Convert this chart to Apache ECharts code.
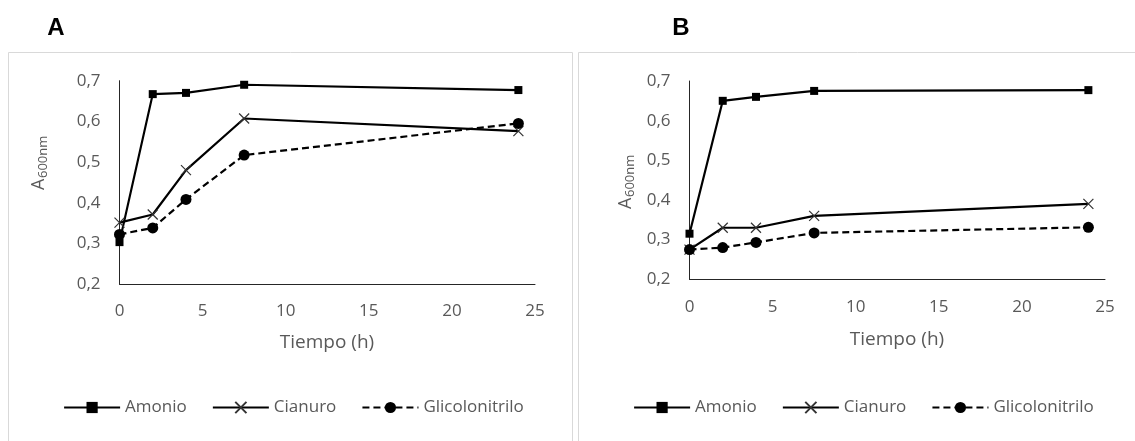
<!DOCTYPE html>
<html>
<head>
<meta charset="utf-8">
<script src="https://cdn.jsdelivr.net/npm/echarts@6/dist/echarts.min.js"></script>
<style>
html,body{margin:0;padding:0;background:#fff;}
#c{width:1135px;height:441px;}
</style>
</head>
<body>
<div id="c"></div>
<script>
const xHours = [0, 2, 4, 7.5, 24];
const amonioA = [0.303, 0.667, 0.670, 0.690, 0.677];
const cianuroA = [0.351, 0.371, 0.480, 0.607, 0.576];
const glicoA = [0.322, 0.338, 0.408, 0.517, 0.595];
const amonioB = [0.315, 0.650, 0.660, 0.675, 0.677];
const cianuroB = [0.275, 0.330, 0.330, 0.360, 0.390];
const glicoB = [0.275, 0.280, 0.293, 0.317, 0.331];
const seriesNames = ['Amonio', 'Cianuro', 'Glicolonitrilo'];
const yTickLabels = ['0,2', '0,3', '0,4', '0,5', '0,6', '0,7'];
const xTickLabels = ['0', '5', '10', '15', '20', '25'];
const panelLabels = ['A', 'B'];
const xTitle = 'Tiempo (h)';

const TXT = '#595959';
const FONT = 'Open Sans';

function pairs(ys) { return xHours.map((x, i) => [x, ys[i]]); }

const xMark = 'path://M0,0L10,10M10,0L0,10';

function makeSeries(gi, a, c, g) {
  return [
    { name: seriesNames[0], type: 'line', xAxisIndex: gi, yAxisIndex: gi, data: pairs(a),
      symbol: 'rect', symbolSize: 8, lineStyle: { color: '#000', width: 2.2 },
      itemStyle: { color: '#000' }, z: 3 },
    { name: seriesNames[1], type: 'line', xAxisIndex: gi, yAxisIndex: gi, data: pairs(c),
      symbol: xMark, symbolSize: 10, lineStyle: { color: '#000', width: 2.2 },
      itemStyle: { color: 'rgba(0,0,0,0)', borderColor: '#333', borderWidth: 1.2 }, z: 4 },
    { name: seriesNames[2], type: 'line', xAxisIndex: gi, yAxisIndex: gi, data: pairs(g),
      symbol: 'circle', symbolSize: 11, lineStyle: { color: '#000', width: 2.2, type: [7, 4] },
      itemStyle: { color: '#000' }, z: 5 }
  ];
}

function xAxisCfg(gi) {
  return { type: 'value', gridIndex: gi, min: 0, max: 25, interval: 5,
    axisLine: { show: true, lineStyle: { color: '#262626', width: 1 } },
    axisTick: { show: false }, splitLine: { show: false },
    axisLabel: { color: TXT, fontFamily: FONT, fontSize: 17, margin: 19,
      formatter: v => xTickLabels[Math.round(v / 5)] } };
}
function yAxisCfg(gi) {
  return { type: 'value', gridIndex: gi, min: 0.2, max: 0.7, interval: 0.1,
    axisLine: { show: true, lineStyle: { color: '#262626', width: 1 } },
    axisTick: { show: false }, splitLine: { show: false },
    axisLabel: { color: TXT, fontFamily: FONT, fontSize: 17, margin: 19, padding: [7, 0, 0, 0],
      formatter: v => yTickLabels[Math.round((v - 0.2) * 10)] } };
}

function legendCfg(left) {
  return { data: seriesNames, left: left, top: 399, padding: 0, itemGap: 25,
    itemWidth: 56, itemHeight: 14,
    lineStyle: { width: 2.2 },
    textStyle: { color: TXT, fontFamily: FONT, fontSize: 17 } };
}

function yTitle(x, yBottom) {
  return { type: 'group', x: x, y: yBottom, rotation: Math.PI / 2, children: [
    { type: 'text', x: 0, y: 0, style: { text: 'A', fill: TXT, font: '18px "Open Sans"', textAlign: 'left', textVerticalAlign: 'middle' } },
    { type: 'text', x: 12, y: 4, style: { text: '600nm', fill: TXT, font: '13px "Open Sans"', textAlign: 'left', textVerticalAlign: 'middle' } }
  ] };
}

const chart = echarts.init(document.getElementById('c'), null, { renderer: 'canvas' });
chart.setOption({
  backgroundColor: '#fff',
  animation: false,
  grid: [
    { left: 119.5, top: 80.7, width: 415.5, height: 203.3 },
    { left: 689.5, top: 81, width: 415.5, height: 198.3 }
  ],
  xAxis: [xAxisCfg(0), xAxisCfg(1)],
  yAxis: [yAxisCfg(0), yAxisCfg(1)],
  legend: [legendCfg(63), legendCfg(633)],
  series: [].concat(makeSeries(0, amonioA, cianuroA, glicoA), makeSeries(1, amonioB, cianuroB, glicoB)),
  graphic: [
    { type: 'rect', shape: { x: 8.5, y: 52.5, width: 564, height: 500 }, style: { fill: 'none', stroke: '#d9d9d9', lineWidth: 1 }, silent: true, z: -10 },
    { type: 'rect', shape: { x: 578.5, y: 52.5, width: 600, height: 500 }, style: { fill: 'none', stroke: '#d9d9d9', lineWidth: 1 }, silent: true, z: -10 },
    { type: 'text', x: 56, y: 28, style: { text: panelLabels[0], fill: '#000', font: 'bold 24px "Liberation Sans"', textAlign: 'center', textVerticalAlign: 'middle' } },
    { type: 'text', x: 681, y: 28, style: { text: panelLabels[1], fill: '#000', font: 'bold 24px "Liberation Sans"', textAlign: 'center', textVerticalAlign: 'middle' } },
    { type: 'text', x: 327, y: 343, style: { text: xTitle, fill: TXT, font: '19px "Open Sans"', textAlign: 'center', textVerticalAlign: 'middle' } },
    { type: 'text', x: 897, y: 340, style: { text: xTitle, fill: TXT, font: '19px "Open Sans"', textAlign: 'center', textVerticalAlign: 'middle' } },
    yTitle(39, 190),
    yTitle(626, 209)
  ]
});
</script>
</body>
</html>
